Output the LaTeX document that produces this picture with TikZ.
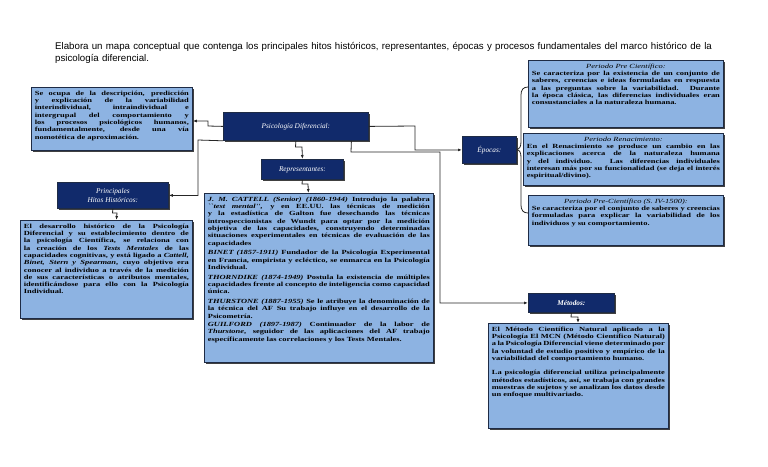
\documentclass[tikz,border=0pt]{standalone}
\usepackage{fontspec}
\setmainfont{Liberation Serif}
\newfontfamily\boxfont[FakeStretch=1.34]{Liberation Serif}
\usetikzlibrary{shadows,arrows.meta}
\definecolor{navy}{HTML}{112A6B}
\definecolor{lblue}{HTML}{8DB3E2}
\definecolor{edgec}{HTML}{1E2B45}
\tikzset{
  shad/.style={drop shadow={shadow xshift=1.3pt,shadow yshift=-1.3pt,fill=black!75,opacity=1}},
  darkbox/.style={shad,fill=navy,draw=edgec,line width=0.8pt,text=white,
    font=\itshape\fontsize{7.3}{8.5}\selectfont,align=center,inner sep=0pt,anchor=north west},
  bluebox/.style={shad,fill=lblue,draw=edgec,line width=0.8pt,inner sep=3.5pt,anchor=north west,
    font=\boxfont\bfseries\fontsize{6.3}{7.3}\selectfont},
  conn/.style={line width=0.8pt,draw=black!85},
  arr/.style={conn,-{Latex[length=4pt,width=3pt]}},
}
\newcommand\bxt[3]{\parbox[t][#2][t]{#1}{\setlength{\parindent}{0pt}\hyphenpenalty=10000 \exhyphenpenalty=10000 \tolerance=9999 \emergencystretch=20pt #3}}
\newcommand\hd[1]{{\centering\mdseries\itshape #1\par}}
\begin{document}
\begin{tikzpicture}[x=1pt,y=-1pt]
\useasboundingbox[fill=white] (0,0) rectangle (768,466);

\node[anchor=north west,inner sep=0pt,text width=700pt,align=left,
  font=\sffamily\fontspec{Liberation Sans}\fontsize{9.7}{12}\selectfont] (title) at (55,42)
  {Elabora un mapa conceptual que contenga los principales hitos históricos, representantes, épocas y procesos fundamentales del marco histórico de la\\psicología diferencial.};

% dark nodes
\node[darkbox,minimum width=145pt,minimum height=28pt] (psi) at (223,112) {Psicología Diferencial:};
\node[darkbox,minimum width=82pt,minimum height=20pt] (rep) at (261,159) {Representantes:};
\node[darkbox,minimum width=54pt,minimum height=27pt] (ep) at (462,136) {Épocas:};
\node[darkbox,minimum width=111pt,minimum height=26pt] (pri) at (57,182) {Principales\\Hitos Históricos:};
\node[darkbox,minimum width=86pt,minimum height=19pt] (met) at (528,293) {\bfseries Métodos:};

% blue boxes
\node[bluebox] (se) at (31,87) {\bxt{154pt}{56pt}{Se ocupa de la descripción, predicción y explicación de la variabilidad interindividual, intraindividual e intergrupal del comportamiento y los procesos psicológicos humanos, fundamentalmente, desde una vía nomotética de aproximación.}};

\node[bluebox] (hh) at (20,220) {\bxt{165pt}{91pt}{El desarrollo histórico de la Psicología Diferencial y su establecimiento dentro de la psicología Científica, se relaciona con la creación de los \textit{Tests Mentales} de las capacidades cognitivas, y está ligado a \textit{Cattell, Binet, Stern y Spearman}, cuyo objetivo era conocer al individuo a través de la medición de sus características o atributos mentales, identificándose para ello con la Psicología Individual.}};

\node[bluebox] (cen) at (204,193) {\bxt{222pt}{162pt}{%
\textit{J. M. CATTELL (Senior) (1860-1944)} Introdujo la palabra \textit{``test mental''}, y en EE.UU. las técnicas de medición y la estadística de Galton fue desechando las técnicas introspeccionistas de Wundt para optar por la medición objetiva de las capacidades, construyendo determinadas situaciones experimentales en técnicas de evaluación de las capacidades\par\vspace{2.5pt}
\textit{BINET (1857-1911)} Fundador de la Psicología Experimental en Francia, empirista y ecléctico, se enmarca en la Psicología Individual.\par\vspace{2.5pt}
\textit{THORNDIKE (1874-1949)} Postula la existencia de múltiples capacidades frente al concepto de inteligencia como capacidad única.\par\vspace{2.5pt}
\textit{THURSTONE (1887-1955)} Se le atribuye la denominación de la técnica del AF Su trabajo influye en el desarrollo de la Psicometría.\par\vspace{1pt}
\textit{GUILFORD (1897-1987)} Continuador de la labor de \textit{Thurstone}, seguidor de las aplicaciones del AF trabajo específicamente las correlaciones y los Tests Mentales.}};

\node[bluebox] (p1) at (528,60) {\bxt{188pt}{60pt}{\hd{Periodo Pre Científico:}Se caracteriza por la existencia de un conjunto de saberes, creencias e ideas formuladas en respuesta a las preguntas sobre la variabilidad. Durante la época clásica, las diferencias individuales eran consustanciales a la naturaleza humana.}};

\node[bluebox] (p2) at (523,133) {\bxt{193pt}{45pt}{\hd{Periodo Renacimiento:}En el Renacimiento se produce un cambio en las explicaciones acerca de la naturaleza humana y del individuo. Las diferencias individuales interesan más por su funcionalidad (se deja el interés espiritual/divino).}};

\node[bluebox] (p3) at (528,195) {\bxt{188pt}{43pt}{\hd{Periodo Pre-Científico (S. IV-1500):}Se caracteriza por el conjunto de saberes y creencias formuladas para explicar la variabilidad de los individuos y su comportamiento.}};

\node[bluebox] (mt) at (488,323) {\bxt{173pt}{98pt}{El Método Científico Natural aplicado a la Psicología El MCN (Método Científico Natural) a la Psicología Diferencial viene determinado por la voluntad de estudio positivo y empírico de la variabilidad del comportamiento humano.\par\vspace{7pt}
La psicología diferencial utiliza principalmente métodos estadísticos, así, se trabaja con grandes muestras de sujetos y se analizan los datos desde un enfoque multivariado.}};

% connectors
\draw[arr] (psi.west) -- (208,126) -- (208,121) -- (se.east |- 0,121);
\draw[arr] (psi.south) -- (295.5,147) -- (302,147) -- (rep.north);
\draw[arr] (psi.east) -- (415,126) |- (ep.west);
\draw[arr] ([xshift=55.5pt]psi.south) -- (351,152) -- (440,152) |- (met.west);
\draw[arr] (psi.south west) -- (198,140) |- (pri.east);
\draw[arr] (pri.south) -- (112.5,213) -- (117,213) -- ([xshift=10pt]hh.north);
\draw[arr] (rep.south) -- (302,184) -- (308,184) -- ([xshift=-10.5pt]cen.north);
\draw[arr] (met.south) -- (571,317) -- (578,317) -- (mt.north -| 578,0);

% brace from Epocas
\draw[conn] (ep.east) .. controls (519,149.5) and (521,147) .. (521,142) -- (521,95)
  .. controls (521,90) and (523,87) .. (p1.west |- 0,87);
\draw[conn] (ep.east) .. controls (519,149.5) and (521,152) .. (521,157) -- (521,205)
  .. controls (521,210) and (523,213) .. (p3.west |- 0,213);
\end{tikzpicture}
\end{document}
